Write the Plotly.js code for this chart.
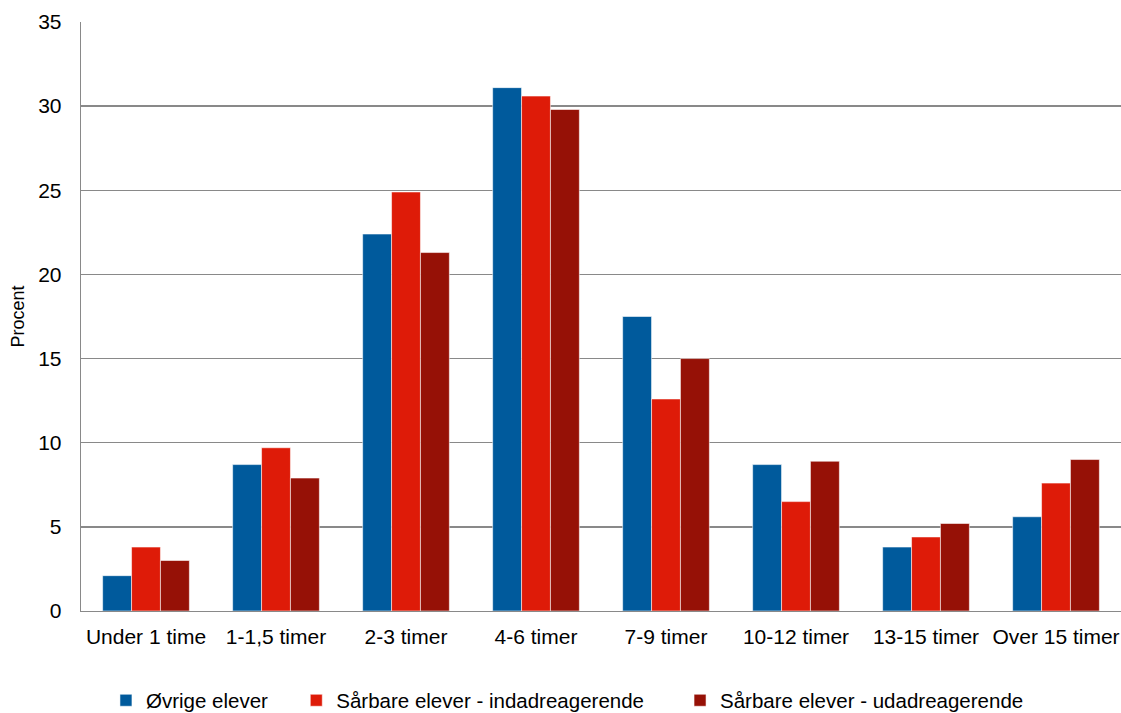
<!DOCTYPE html>
<html>
<head>
<meta charset="utf-8">
<script src="https://cdn.plot.ly/plotly-3.0.1.min.js"></script>
<style>html,body{margin:0;padding:0;background:#fff;}#chart{width:1121px;height:713px;}</style>
</head>
<body>
<div id="chart"></div>
<script>
var categories = ["Under 1 time", "1-1,5 timer", "2-3 timer", "4-6 timer", "7-9 timer", "10-12 timer", "13-15 timer", "Over 15 timer"];
var seriesNames = ["Øvrige elever", "Sårbare elever - indadreagerende", "Sårbare elever - udadreagerende"];
var ovrige = [2.1, 8.7, 22.4, 31.1, 17.5, 8.7, 3.8, 5.6];
var indad = [3.8, 9.7, 24.9, 30.6, 12.6, 6.5, 4.4, 7.6];
var udad = [3.0, 7.9, 21.3, 29.8, 15.0, 8.9, 5.2, 9.0];
var yTicks = [0, 5, 10, 15, 20, 25, 30, 35];

var colors = ["#005A9C", "#DE1B08", "#961106"];
var values = [ovrige, indad, udad];
var legendIds = ["legend", "legend2", "legend3"];

var traces = values.map(function (v, i) {
  return {
    type: "bar",
    name: seriesNames[i],
    x: categories,
    y: v,
    legend: legendIds[i],
    marker: {color: colors[i], line: {color: "rgba(255,255,255,0.55)", width: 1}},
    hoverinfo: "x+y+name"
  };
});

var fam = "Liberation Sans, Arial, sans-serif";
function leg(x) {
  return {orientation: "h", x: x, xanchor: "left", y: -0.1858, yanchor: "bottom",
    font: {family: fam, size: 20.5, color: "#000"}, bgcolor: "rgba(0,0,0,0)", borderwidth: 0};
}

var layout = {
  width: 1121, height: 713,
  margin: {l: 81, r: 0, t: 22, b: 102, pad: 0, autoexpand: false},
  paper_bgcolor: "#fff", plot_bgcolor: "#fff",
  font: {family: fam, size: 20, color: "#000"},
  barmode: "group",
  bargap: 0.333,
  bargroupgap: 0,
  xaxis: {
    type: "category",
    showline: true, linecolor: "#898989", linewidth: 1.3,
    ticks: "", showgrid: false,
    tickfont: {family: fam, size: 21, color: "#000"},
    ticklabelstandoff: 6
  },
  yaxis: {
    range: [0, 35], tickvals: yTicks, ticktext: yTicks.map(String),
    showline: true, linecolor: "#898989", linewidth: 1.3,
    showgrid: true, gridcolor: "#898989", gridwidth: 1.3,
    zeroline: false,
    ticks: "",
    tickfont: {family: fam, size: 21, color: "#000"},
    ticklabelstandoff: 14,
    title: {text: "Procent", font: {family: fam, size: 18, color: "#000"}, standoff: 8}
  },
  showlegend: true,
  legend: leg(0.024),
  legend2: leg(0.207),
  legend3: leg(0.576)
};

Plotly.newPlot("chart", traces, layout, {displayModeBar: false, staticPlot: true});
</script>
</body>
</html>
